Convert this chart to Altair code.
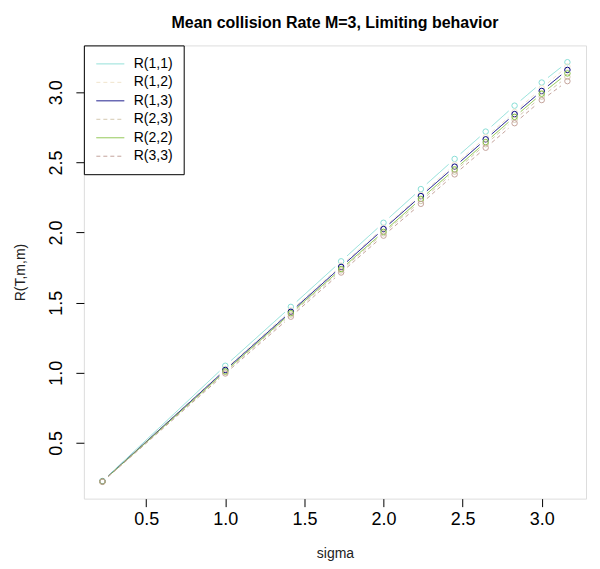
import math
import altair as alt
import pandas as pd

# ---- data ----
sigma = [0.2236, 1.0, 1.4142, 1.7321, 2.0, 2.2361, 2.4495, 2.6458, 2.8284, 3.0, 3.1623]
series_names = ["R(1,1)", "R(1,2)", "R(1,3)", "R(2,3)", "R(2,2)", "R(3,3)"]
R11 = [0.228, 1.050, 1.470, 1.795, 2.070, 2.310, 2.525, 2.720, 2.905, 3.070, 3.215]
R12 = [0.226, 1.028, 1.445, 1.765, 2.035, 2.270, 2.485, 2.680, 2.860, 3.030, 3.185]
R13 = [0.225, 1.020, 1.435, 1.755, 2.025, 2.260, 2.470, 2.665, 2.845, 3.010, 3.160]
R23 = [0.224, 1.005, 1.415, 1.730, 1.995, 2.225, 2.435, 2.630, 2.805, 2.970, 3.110]
R22 = [0.224, 1.010, 1.425, 1.740, 2.005, 2.240, 2.450, 2.645, 2.825, 2.990, 3.135]
R33 = [0.222, 0.995, 1.400, 1.715, 1.978, 2.205, 2.415, 2.605, 2.780, 2.945, 3.080]
series_values = [R11, R12, R13, R23, R22, R33]
x_ticks = [0.5, 1.0, 1.5, 2.0, 2.5, 3.0]
y_ticks = [0.5, 1.0, 1.5, 2.0, 2.5, 3.0]

# ---- styles ----
colors = ["#88DDD5", "#F0E4CC", "#000080", "#D4C8B0", "#84C040", "#C4A49C"]
dashes = [[1, 0], [4, 3], [1, 0], [4, 3], [1, 0], [4, 3]]
FONT = "Liberation Sans"

W, H = 503, 454
xmin, xmax = min(sigma), max(sigma)
allv = [v for s in series_values for v in s]
ymin, ymax = min(allv), max(allv)
xd = [xmin - 0.04 * (xmax - xmin), xmax + 0.04 * (xmax - xmin)]
yd = [ymin - 0.04 * (ymax - ymin), ymax + 0.04 * (ymax - ymin)]
pxx = W / (xd[1] - xd[0])
pxy = H / (yd[1] - yd[0])
GAP = 8.0

pts, segs = [], []
for name, col, vals in zip(series_names, colors, series_values):
    for i, (x, y) in enumerate(zip(sigma, vals)):
        pts.append({"series": name, "col": col, "sigma": x, "R": y, "order": i})
    for i in range(len(sigma) - 1):
        x0, x1, y0, y1 = sigma[i], sigma[i + 1], vals[i], vals[i + 1]
        L = math.hypot((x1 - x0) * pxx, (y1 - y0) * pxy)
        if L <= 2 * GAP:
            continue
        f = GAP / L
        segs.append({
            "series": name,
            "x": x0 + f * (x1 - x0), "x2": x1 - f * (x1 - x0),
            "y": y0 + f * (y1 - y0), "y2": y1 - f * (y1 - y0),
        })

pts_df = pd.DataFrame(pts)
seg_df = pd.DataFrame(segs)

xscale = alt.Scale(domain=xd, nice=False, zero=False)
yscale = alt.Scale(domain=yd, nice=False, zero=False)

legend = alt.Legend(
    title=None, orient="top-left", offset=0, strokeColor="black",
    fillColor="white", padding=11, symbolType="M-2,0H2", symbolSize=196,
    symbolOffset=8, symbolStrokeWidth=1, symbolOpacity=1, labelFontSize=14,
    labelFont=FONT, labelColor="black", labelOffset=16, rowPadding=3.5,
)

xaxis = alt.Axis(values=x_ticks, format=".1f", title="sigma", grid=False, domain=False,
                 tickSize=8, tickColor="black", labelFontSize=18, labelFont=FONT,
                 labelColor="black", labelPadding=4, titleFont=FONT, titleFontSize=14,
                 titleFontWeight="normal", titleColor="#222", titlePadding=18)
yaxis = alt.Axis(values=y_ticks, format=".1f", title="R(T,m,m)", grid=False, domain=False,
                 tickSize=8, tickColor="black", labelFontSize=18, labelFont=FONT,
                 labelColor="black", labelAngle=270, labelAlign="center",
                 labelBaseline="bottom", labelPadding=10, titleFont=FONT,
                 titleFontSize=14, titleFontWeight="normal", titleColor="#222",
                 titlePadding=20)

lines = alt.Chart(seg_df).mark_rule(strokeWidth=1).encode(
    x=alt.X("x:Q", scale=xscale, axis=xaxis),
    x2="x2:Q",
    y=alt.Y("y:Q", scale=yscale, axis=yaxis),
    y2="y2:Q",
    color=alt.Color("series:N", scale=alt.Scale(domain=series_names, range=colors),
                    legend=legend),
    strokeDash=alt.StrokeDash("series:N", scale=alt.Scale(domain=series_names, range=dashes),
                              legend=legend),
)

points = alt.Chart(pts_df).mark_point(shape="circle", filled=False, size=30, strokeWidth=1,
                                      opacity=1).encode(
    x=alt.X("sigma:Q", scale=xscale),
    y=alt.Y("R:Q", scale=yscale),
    color=alt.Color("col:N", scale=None),
)

chart = alt.layer(lines, points).properties(
    width=W, height=H,
    title=alt.Title("Mean collision Rate M=3, Limiting behavior", font=FONT, fontSize=16,
                    fontWeight="bold", color="black", anchor="middle", offset=14),
    autosize=alt.AutoSizeParams(type="none"),
    padding={"left": 76, "top": 37, "right": 6, "bottom": 70},
).configure_view(stroke="#555", strokeWidth=1).configure(background="white")

chart.save("out.html", embed_options={"renderer": "svg", "actions": False})
